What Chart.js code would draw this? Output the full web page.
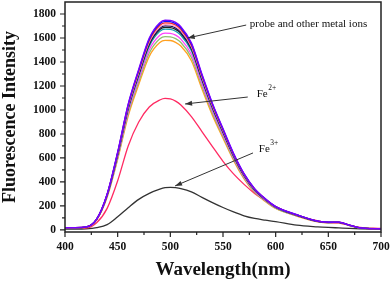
<!DOCTYPE html>
<html>
<head>
<meta charset="utf-8">
<script src="https://cdn.jsdelivr.net/npm/chart.js@4.4.1/dist/chart.umd.min.js"></script>
<style>
  html, body { margin: 0; padding: 0; background: #fff; }
  #wrap { width: 392px; height: 282px; }
</style>
</head>
<body>
<div id="wrap"><canvas id="c" width="392" height="282"></canvas></div>
<script>
// wavelengths (nm)
const wl = [400,410,420,430,440,450,460,470,480,490,495,500,505,510,520,530,540,550,560,570,580,590,600,620,640,650,660,670,680,700];

// probe and other metal ions (top to bottom at the peak)
const sPurple = [20,20,25,90,300,650,1050,1340,1600,1728,1748,1746,1730,1695,1560,1300,1055,845,640,470,345,262,196,128,74,65,66,40,18,10];
const sBlue   = [20,20,25,90,298,646,1044,1332,1590,1718,1738,1736,1720,1685,1551,1292,1049,840,636,467,343,261,195,127,74,65,66,40,18,10];
const sRed    = [20,20,25,89,296,642,1037,1323,1579,1706,1726,1724,1708,1673,1540,1283,1042,834,632,464,341,259,194,126,73,64,65,40,18,10];
const sPink   = [20,20,25,89,294,637,1028,1312,1567,1692,1712,1710,1694,1660,1528,1273,1033,828,627,461,338,257,192,125,73,64,65,39,18,10];
const sNavy   = [19,19,24,88,292,633,1022,1304,1557,1682,1701,1699,1684,1650,1518,1265,1027,823,623,458,336,255,191,124,72,63,64,39,18,10];
const sBlack  = [19,19,24,88,290,629,1015,1295,1546,1670,1689,1687,1672,1638,1508,1256,1020,817,619,455,334,254,190,123,72,63,64,39,18,10];
const sTeal   = [19,19,24,87,288,623,1006,1283,1532,1655,1674,1672,1656,1623,1494,1245,1010,810,613,451,331,252,188,122,71,62,63,39,17,10];
const sMag    = [18,18,23,86,283,611,986,1258,1502,1622,1641,1639,1624,1591,1465,1221,991,794,602,442,325,247,185,120,70,61,62,38,17,10];
const sGreen  = [18,18,23,85,278,600,969,1236,1475,1593,1612,1610,1595,1563,1438,1199,973,780,591,434,319,243,182,118,69,60,61,38,17,10];
const sOrange = [17,17,22,84,273,589,950,1212,1447,1562,1580,1579,1564,1533,1411,1176,955,765,580,426,313,239,179,116,68,59,60,37,17,10];

// Fe2+ and Fe3+
const sFe2 = [14,14,16,60,180,410,700,900,1025,1083,1096,1092,1074,1042,945,820,695,572,467,380,305,245,195,118,76,60,57,38,22,12];
const sFe3 = [8,8,10,20,45,110,185,255,305,340,352,355,352,345,318,272,228,187,150,118,96,82,70,40,26,21,17,13,10,6];

// axis ticks
const xTicks = [400,450,500,550,600,650,700];
const xMinor = [425,475,525,575,625,675];
const yTicks = [0,200,400,600,800,1000,1200,1400,1600,1800];
const yMinor = [100,300,500,700,900,1100,1300,1500,1700];

// annotations: [text, sup, x, y] and arrows [x0, y0, x1, y1] in data units
const labels = [
  ['probe and other metal ions', '', 575.5, 1717],
  ['Fe', '2+', 582, 1133],
  ['Fe', '3+', 584, 675]
];
const arrows = [
  [572, 1708, 516.5, 1600],
  [573.5, 1108, 514, 1050],
  [578.5, 642, 504.5, 367]
];

const series = [
  [sPurple, '#7a00ff'],
  [sBlue, '#1010ff'],
  [sRed, '#ff2020'],
  [sPink, '#ff9cc8'],
  [sNavy, '#101060'],
  [sBlack, '#202020'],
  [sTeal, '#10a0b0'],
  [sMag, '#ff40ff'],
  [sGreen, '#90c070'],
  [sOrange, '#ffa020'],
  [sFe2, '#ff2a62'],
  [sFe3, '#333333']
];

const datasets = series.map(([vals, col]) => ({
  data: wl.map((w, i) => ({x: w, y: vals[i]})),
  borderColor: col,
  borderWidth: 1.3,
  pointRadius: 0,
  fill: false,
  cubicInterpolationMode: 'monotone'
}));

const serif = '"Liberation Serif", "DejaVu Serif", serif';

const frame = {
  id: 'frame',
  afterDraw(chart){
    const {ctx, chartArea: a, scales: {x, y}} = chart;
    ctx.save();
    ctx.strokeStyle = '#222';
    ctx.lineWidth = 1.5;
    ctx.strokeRect(a.left, a.top, a.right - a.left, a.bottom - a.top);
    ctx.lineWidth = 1.2;
    ctx.beginPath();
    yTicks.forEach(v => { const p = y.getPixelForValue(v); ctx.moveTo(a.left - 5, p); ctx.lineTo(a.left, p); });
    yMinor.forEach(v => { const p = y.getPixelForValue(v); ctx.moveTo(a.left - 3, p); ctx.lineTo(a.left, p); });
    xTicks.forEach(v => { const p = x.getPixelForValue(v); ctx.moveTo(p, a.bottom); ctx.lineTo(p, a.bottom + 5); });
    xMinor.forEach(v => { const p = x.getPixelForValue(v); ctx.moveTo(p, a.bottom); ctx.lineTo(p, a.bottom + 3); });
    ctx.stroke();

    // arrows
    ctx.strokeStyle = '#333';
    ctx.fillStyle = '#333';
    ctx.lineWidth = 1;
    arrows.forEach(([x0, y0, x1, y1]) => {
      const px0 = x.getPixelForValue(x0), py0 = y.getPixelForValue(y0);
      const px1 = x.getPixelForValue(x1), py1 = y.getPixelForValue(y1);
      const ang = Math.atan2(py1 - py0, px1 - px0);
      ctx.beginPath(); ctx.moveTo(px0, py0); ctx.lineTo(px1, py1); ctx.stroke();
      ctx.beginPath();
      ctx.moveTo(px1, py1);
      ctx.lineTo(px1 - 7*Math.cos(ang) + 2.5*Math.sin(ang), py1 - 7*Math.sin(ang) - 2.5*Math.cos(ang));
      ctx.lineTo(px1 - 7*Math.cos(ang) - 2.5*Math.sin(ang), py1 - 7*Math.sin(ang) + 2.5*Math.cos(ang));
      ctx.closePath(); ctx.fill();
    });

    // labels
    ctx.fillStyle = '#111';
    ctx.textBaseline = 'middle';
    labels.forEach(([t, sup, lx, ly]) => {
      const px = x.getPixelForValue(lx), py = y.getPixelForValue(ly);
      ctx.font = '11px ' + serif;
      ctx.fillText(t, px, py);
      if(sup){
        const w = ctx.measureText(t).width;
        ctx.font = '7.5px ' + serif;
        ctx.fillText(sup, px + w + 0.5, py - 6);
      }
    });
    ctx.restore();
  }
};

new Chart(document.getElementById('c'), {
  type: 'line',
  data: {datasets},
  plugins: [frame],
  options: {
    responsive: false,
    animation: false,
    layout: {padding: {top: 2, right: 11, left: 0, bottom: 0}},
    plugins: {legend: {display: false}, tooltip: {enabled: false}},
    scales: {
      x: {
        type: 'linear', min: 400, max: 700,
        afterBuildTicks: s => { s.ticks = xTicks.map(v => ({value: v})); },
        afterFit: s => { s.height = 50; s.paddingLeft = 0; s.paddingRight = 0; },
        grid: {display: false, drawTicks: false},
        border: {display: false},
        ticks: {padding: 8, color: '#111', font: {family: serif, size: 11.5, weight: 'bold'}, maxRotation: 0,
                callback: v => String(v)},
        title: {display: true, text: 'Wavelength(nm)', color: '#111', padding: {top: 0, bottom: 1},
                font: {family: serif, size: 19, weight: 'bold'}}
      },
      y: {
        type: 'linear', min: -17, max: 1900,
        afterBuildTicks: s => { s.ticks = yTicks.map(v => ({value: v})); },
        afterFit: s => { s.width = 65; s.paddingTop = 0; s.paddingBottom = 0; },
        grid: {display: false, drawTicks: false},
        border: {display: false},
        ticks: {padding: 9, color: '#111', font: {family: serif, size: 11.5, weight: 'bold'},
                callback: v => String(v)},
        title: {display: true, text: 'Fluorescence Intensity', color: '#111', padding: {top: 0, bottom: 0},
                font: {family: serif, size: 18, weight: 'bold'}}
      }
    }
  }
});
</script>
</body>
</html>
